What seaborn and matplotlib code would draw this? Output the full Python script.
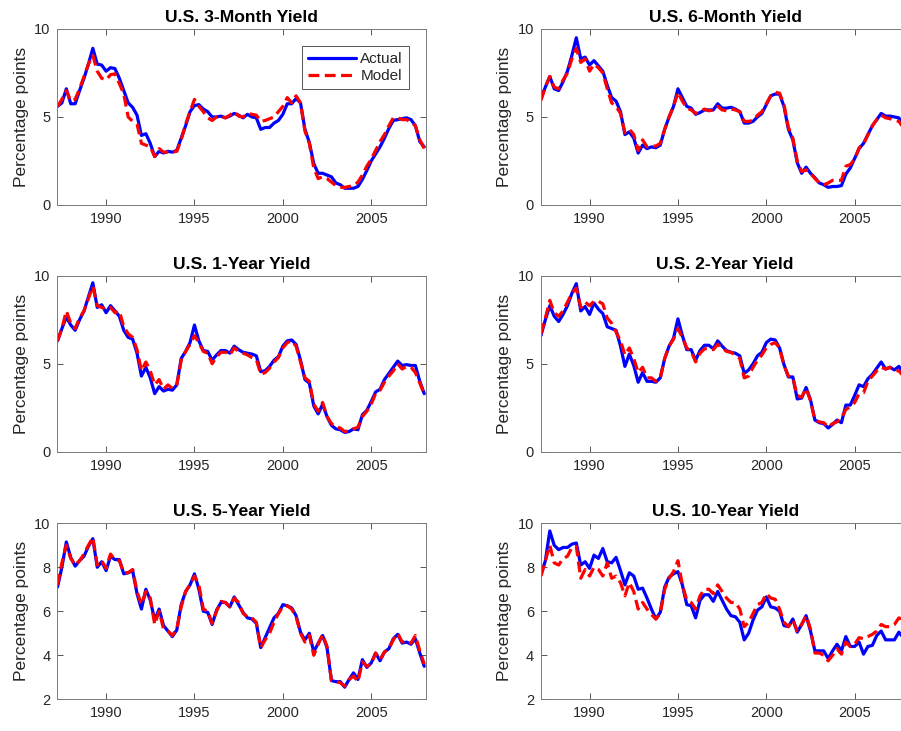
import numpy as np
import matplotlib
matplotlib.use("Agg")
import matplotlib.pyplot as plt
import seaborn as sns

sns.set_theme(style="ticks")
plt.rcParams['font.family'] = ['Liberation Sans', 'DejaVu Sans']

# quarterly observations, 1987Q2 .. 2008Q1
dates = np.arange(1987.25, 2008.01, 0.25)

titles = ["U.S. 3-Month Yield", "U.S. 6-Month Yield", "U.S. 1-Year Yield",
          "U.S. 2-Year Yield", "U.S. 5-Year Yield", "U.S. 10-Year Yield"]

actual_3m = [5.6, 5.8, 6.6,
             5.75, 5.75, 6.5, 7.2,
             8.0, 8.9, 8.0, 7.95,
             7.6, 7.8, 7.75, 7.2,
             6.5, 5.8, 5.55, 5.1,
             3.95, 4.05, 3.5, 2.75,
             3.05, 2.95, 3.05, 3.0,
             3.1, 3.8, 4.5, 5.3,
             5.65, 5.7, 5.45, 5.3,
             5.0, 5.0, 5.05, 4.95,
             5.05, 5.2, 5.1, 4.95,
             5.15, 5.0, 4.95, 4.3,
             4.4, 4.4, 4.65, 4.8,
             5.15, 5.75, 5.75, 6.05,
             5.8, 4.3, 3.55, 2.35,
             1.8, 1.8, 1.7, 1.6,
             1.25, 1.15, 0.95, 0.95,
             0.95, 1.05, 1.45, 1.95,
             2.5, 2.9, 3.3, 3.8,
             4.35, 4.8, 4.85, 4.9,
             4.95, 4.85, 4.5, 3.6,
             3.3]
model_3m = [5.6, 6.0, 6.5,
            5.9, 6.0, 6.6, 7.3,
            8.0, 8.5, 7.6, 7.2,
            7.1, 7.4, 7.45, 6.9,
            6.3, 5.0, 4.75, 4.6,
            3.5, 3.4, 3.3, 2.75,
            3.2, 3.0, 3.0, 3.0,
            3.05, 3.7, 4.6, 5.3,
            6.0, 5.6, 5.3, 4.95,
            4.8, 5.0, 5.05, 4.95,
            5.1, 5.3, 5.05, 5.0,
            5.2, 5.15, 5.1, 4.75,
            4.8, 4.9, 5.0, 5.3,
            5.6, 6.1, 5.8, 6.2,
            5.8, 4.2, 3.5, 2.1,
            1.5, 1.6, 1.5, 1.3,
            1.1, 1.0, 1.0, 1.05,
            1.1, 1.3, 1.7, 2.2,
            2.6, 3.1, 3.6, 4.0,
            4.5, 4.95, 4.95, 4.85,
            4.85, 4.7, 4.5, 3.7,
            3.2]

actual_6m = [6.05, 6.7, 7.3,
             6.6, 6.5, 7.0, 7.6,
             8.5, 9.5, 8.3, 8.4,
             7.95, 8.2, 7.9, 7.6,
             6.8, 6.1, 5.9, 5.3,
             4.0, 4.15, 3.8, 2.95,
             3.4, 3.2, 3.3, 3.25,
             3.4, 4.3, 5.0, 5.6,
             6.6, 6.1, 5.6, 5.5,
             5.15, 5.25, 5.4, 5.4,
             5.4, 5.75, 5.5, 5.5,
             5.55, 5.45, 5.3, 4.65,
             4.65, 4.75, 5.0, 5.2,
             5.7, 6.2, 6.3, 6.3,
             5.6, 4.3, 3.7, 2.4,
             1.8, 2.15, 1.8, 1.55,
             1.25, 1.15, 1.0, 1.05,
             1.05, 1.1, 1.75, 2.1,
             2.65, 3.2, 3.5, 4.0,
             4.5, 4.85, 5.2, 5.05,
             5.05, 5.0, 4.95, 4.55,
             4.1]
model_6m = [5.95, 6.7, 7.3,
            6.7, 6.6, 7.1, 7.5,
            8.3, 8.9, 8.1, 8.3,
            7.6, 8.0, 7.8, 7.5,
            6.6, 5.8, 5.6, 5.2,
            4.1, 4.3, 4.0, 3.1,
            3.7, 3.3, 3.35, 3.35,
            3.5, 4.3, 5.0, 5.6,
            6.4, 5.9, 5.5, 5.4,
            5.2, 5.3, 5.45, 5.35,
            5.4, 5.6, 5.4, 5.35,
            5.45, 5.4, 5.3, 4.75,
            4.75, 4.8, 5.1, 5.3,
            5.75, 6.2, 6.4, 6.35,
            5.7, 4.4, 3.8, 2.5,
            1.9, 2.0, 1.8, 1.5,
            1.25, 1.15, 1.25, 1.4,
            1.4, 1.4, 2.2, 2.3,
            2.6, 3.25, 3.45, 4.0,
            4.5, 4.85, 5.1, 4.95,
            4.9, 4.8, 4.75, 4.4,
            4.0]

actual_1y = [6.3, 7.0, 7.65,
             7.2, 6.9, 7.5, 8.0,
             8.8, 9.6, 8.2, 8.35,
             7.9, 8.3, 8.0, 7.7,
             6.9, 6.5, 6.4, 5.6,
             4.3, 4.8, 4.2, 3.3,
             3.7, 3.45, 3.55, 3.5,
             3.8, 5.3, 5.7, 6.2,
             7.2, 6.3, 5.75, 5.7,
             5.2, 5.5, 5.75, 5.75,
             5.6, 6.0, 5.8, 5.65,
             5.6, 5.55, 5.45, 4.55,
             4.6, 4.85, 5.2, 5.4,
             6.0, 6.3, 6.35, 6.1,
             5.2, 4.1, 3.9, 2.6,
             2.15, 2.7, 2.0, 1.5,
             1.3, 1.25, 1.1, 1.15,
             1.3, 1.25, 2.1, 2.35,
             2.85, 3.4, 3.55, 4.1,
             4.45, 4.8, 5.15, 4.9,
             4.95, 4.9, 4.9, 4.0,
             3.3]
model_1y = [6.3, 7.0, 8.0,
            7.3, 7.0, 7.6, 8.0,
            8.7, 9.4, 8.3, 8.2,
            8.1, 8.2, 7.9, 8.0,
            7.1, 6.7, 6.5, 5.8,
            4.6, 5.1, 4.6, 3.8,
            4.1, 3.55, 3.8, 3.6,
            3.8, 5.2, 5.7, 6.1,
            6.6, 6.2, 5.7, 5.6,
            5.0, 5.4, 5.65, 5.65,
            5.5, 5.9, 5.7, 5.6,
            5.5, 5.35, 5.25, 4.4,
            4.5, 4.75, 5.1, 5.35,
            5.9, 6.2, 6.3, 6.0,
            5.1, 4.2, 4.0, 2.7,
            2.3, 2.8, 2.0, 1.6,
            1.4, 1.35, 1.15, 1.2,
            1.3, 1.4, 2.0, 2.3,
            2.7, 3.3, 3.5, 3.95,
            4.3, 4.6, 5.0, 4.7,
            4.85, 4.8, 4.5, 3.9,
            3.3]

actual_2y = [6.6, 7.5, 8.3,
             7.7, 7.4, 7.8, 8.3,
             9.0, 9.55, 8.0, 8.25,
             7.8, 8.45, 8.1, 7.85,
             7.1, 7.0, 6.9, 6.0,
             4.85, 5.55, 4.9, 3.95,
             4.5, 4.0, 4.0, 3.95,
             4.2, 5.3, 6.0, 6.45,
             7.55, 6.6, 5.8, 5.8,
             5.2, 5.75, 6.05, 6.05,
             5.85, 6.3, 6.0, 5.75,
             5.65, 5.6, 5.45, 4.45,
             4.65, 5.0, 5.45, 5.65,
             6.2, 6.4, 6.35, 5.9,
             4.95, 4.25, 4.25, 3.0,
             3.05, 3.65, 2.95, 1.8,
             1.65, 1.6, 1.35, 1.55,
             1.8, 1.65, 2.65, 2.65,
             3.2, 3.8, 3.7, 4.15,
             4.4, 4.75, 5.1, 4.7,
             4.8, 4.65, 4.85, 4.5,
             3.8]
model_2y = [6.7, 7.6, 8.6,
            7.9, 7.7, 8.0, 8.5,
            9.0, 9.3, 8.2, 8.5,
            8.3, 8.55, 8.55, 8.4,
            7.6, 7.3, 6.8, 6.3,
            5.5, 5.9, 5.3, 4.5,
            4.8, 4.2, 4.2, 4.0,
            4.2, 5.3, 6.0, 6.4,
            7.0, 6.5, 5.9, 5.7,
            5.1, 5.6, 5.85, 5.85,
            5.8, 6.1, 5.9, 5.7,
            5.65, 5.5, 5.3, 4.2,
            4.3, 4.8, 5.2, 5.5,
            5.9, 6.1, 6.2, 5.9,
            4.9, 4.3, 4.2, 3.2,
            3.1, 3.6, 2.9, 1.8,
            1.7, 1.65, 1.4, 1.6,
            1.7, 1.9, 2.4, 2.55,
            2.8, 3.3, 3.35, 4.0,
            4.3, 4.6, 4.8, 4.7,
            4.8, 4.6, 4.6, 4.3,
            3.9]

actual_5y = [7.1, 8.0, 9.15,
             8.45, 8.05, 8.3, 8.5,
             8.95, 9.3, 8.0, 8.25,
             7.85, 8.5, 8.35, 8.35,
             7.7, 7.75, 7.85, 6.8,
             6.1, 7.0, 6.5, 5.6,
             6.1, 5.35, 5.1, 4.85,
             5.15, 6.3, 6.9, 7.2,
             7.7, 7.0, 6.0, 5.95,
             5.4, 6.05, 6.4, 6.4,
             6.2, 6.65, 6.3, 5.95,
             5.7, 5.65, 5.45, 4.35,
             4.8, 5.25, 5.7, 5.9,
             6.3, 6.25, 6.15, 5.8,
             5.05, 4.7, 5.0, 4.15,
             4.55, 4.9, 4.35, 2.85,
             2.8, 2.8, 2.55, 2.9,
             3.2, 2.9, 3.8, 3.45,
             3.65, 4.1, 3.75, 4.15,
             4.3, 4.75, 4.95, 4.55,
             4.6, 4.5, 4.75, 4.1,
             3.5]
model_5y = [7.2, 8.2, 9.0,
            8.4, 8.1, 8.3, 8.6,
            9.0, 9.35, 8.1, 8.3,
            7.95, 8.6, 8.35, 8.3,
            7.75, 7.75, 7.9, 6.9,
            6.3, 6.9, 6.6, 5.4,
            6.0, 5.2, 5.1, 4.9,
            5.2, 6.2, 6.9, 7.2,
            7.6, 7.2, 6.1, 6.0,
            5.45, 6.0, 6.45, 6.4,
            6.2, 6.6, 6.4, 5.9,
            5.75, 5.7, 5.5, 4.35,
            4.7, 5.0, 5.5, 5.9,
            6.2, 6.25, 6.1, 5.75,
            5.0, 4.6, 4.9, 4.0,
            4.5, 4.95, 4.4, 2.85,
            2.8, 2.75, 2.6, 2.9,
            3.05, 2.8, 3.7, 3.5,
            3.6, 4.1, 3.8, 4.15,
            4.3, 4.7, 5.0, 4.6,
            4.65, 4.55, 4.9, 4.2,
            3.6]

actual_10y = [7.65, 8.3, 9.65,
              9.0, 8.8, 8.9, 8.9,
              9.05, 9.1, 8.1, 8.25,
              7.95, 8.55, 8.4, 8.85,
              8.25, 8.2, 8.45, 7.85,
              7.2, 7.75, 7.6, 7.0,
              7.05, 6.6, 6.1, 5.65,
              5.95, 7.1, 7.55, 7.7,
              7.8, 7.2, 6.3, 6.25,
              5.7, 6.5, 6.75, 6.75,
              6.45, 6.9, 6.5, 6.1,
              5.8, 5.75, 5.5, 4.7,
              5.0, 5.6, 6.05, 6.2,
              6.65, 6.2, 6.15, 6.0,
              5.35, 5.3, 5.65, 5.05,
              5.4, 5.8, 5.1, 4.2,
              4.2, 4.2, 3.85, 4.2,
              4.5, 4.2, 4.85, 4.4,
              4.4, 4.6, 4.05, 4.4,
              4.45, 4.9, 5.1, 4.7,
              4.7, 4.7, 5.05, 4.8,
              4.5]
model_10y = [7.6, 8.3, 9.0,
             8.2, 8.1, 8.4, 8.5,
             8.9, 8.95, 7.5, 7.9,
             7.6, 8.0, 7.9, 7.6,
             8.2, 7.5, 7.6, 7.3,
             6.7, 7.3, 6.9, 6.1,
             6.4, 6.1, 5.85, 5.65,
             5.9, 7.0, 7.5, 7.8,
             8.3, 7.2, 6.5, 6.4,
             6.1, 6.7, 7.0, 7.0,
             6.8, 7.2, 6.9, 6.6,
             6.4, 6.4, 6.1, 5.3,
             5.5, 5.9, 6.3, 6.4,
             6.8, 6.6, 6.55, 6.1,
             5.5, 5.3, 5.6, 5.1,
             5.4, 5.8, 5.2, 4.1,
             4.1, 4.0, 3.75, 4.0,
             4.3, 4.05, 4.6, 4.4,
             4.5, 4.8, 4.75, 4.85,
             4.95, 5.1, 5.4, 5.3,
             5.3, 5.4, 5.7, 5.6,
             5.2]

actual_all = [actual_3m, actual_6m, actual_1y, actual_2y, actual_5y, actual_10y]
model_all = [model_3m, model_6m, model_1y, model_2y, model_5y, model_10y]
ylims = [(0, 10), (0, 10), (0, 10), (0, 10), (2, 10), (2, 10)]
yticks = [[0, 5, 10]] * 4 + [[2, 4, 6, 8, 10]] * 2

fig = plt.figure(figsize=(9.01, 7.31), dpi=100)
lefts = [0.0638, 0.6004]
bottoms = [0.7196, 0.382, 0.0434]
w, h = 0.409, 0.2408

axcol = "#3a3a3a"
for i in range(6):
    r, c = divmod(i, 2)
    ax = fig.add_axes([lefts[c], bottoms[r], w, h])
    sns.lineplot(x=dates, y=actual_all[i], ax=ax, color="#0000ff", lw=2.3,
                 label="Actual", legend=False)
    sns.lineplot(x=dates, y=model_all[i], ax=ax, color="#ff0000", lw=2.3,
                 label="Model", legend=False, dashes=False)
    ax.lines[1].set_dashes((3.4, 1.7))
    ax.set_xlim(1987.25, 2008.1)
    ax.set_ylim(*ylims[i])
    ax.set_xticks([1990, 1995, 2000, 2005])
    ax.set_yticks(yticks[i])
    ax.set_title(titles[i], fontsize=12.6, fontweight="bold", color="black", pad=5)
    ax.set_ylabel("Percentage points", fontsize=12.5, color="#262626", labelpad=4)
    ax.set_xlabel("")
    ax.tick_params(direction="in", top=True, right=True, length=4, width=0.6,
                   labelsize=10.5, colors=axcol, labelcolor="#262626", pad=5)
    for s in ax.spines.values():
        s.set_visible(True)
        s.set_color("#7a7a7a")
        s.set_linewidth(0.7)
    if i == 0:
        leg = ax.legend(loc="upper right", bbox_to_anchor=(0.954, 0.903),
                        borderaxespad=0, fontsize=11, fancybox=False,
                        framealpha=1, edgecolor="#555555", handlelength=3.1,
                        borderpad=0.4, labelspacing=0.2, handletextpad=0.3)
        leg.get_frame().set_linewidth(0.7)

fig.savefig("out.png", dpi=100)
